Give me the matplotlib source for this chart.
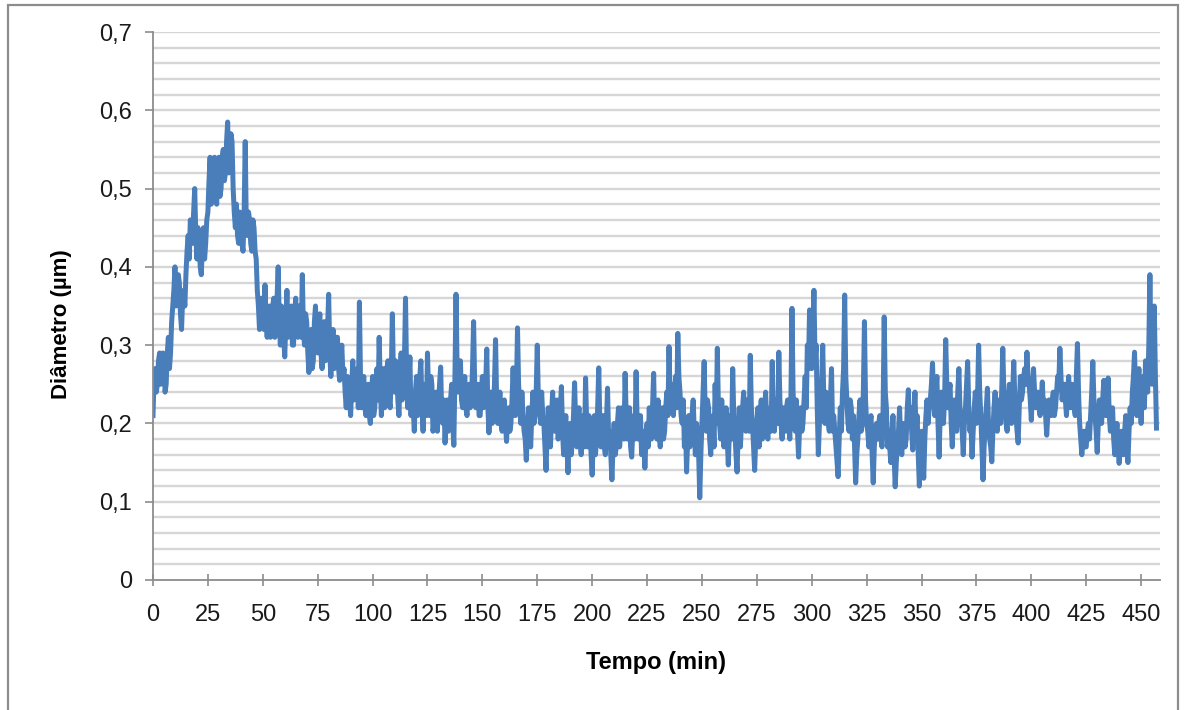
import numpy as np
import matplotlib.pyplot as plt
from matplotlib.patches import Rectangle

diametro = [
    0.21, 0.27, 0.25, 0.29, 0.26, 0.28, 0.25, 0.31, 0.29, 0.35,
    0.40, 0.36, 0.38, 0.32, 0.37, 0.39, 0.44, 0.46, 0.43, 0.50,
    0.41, 0.44, 0.39, 0.45, 0.43, 0.47, 0.54, 0.49, 0.54, 0.48,
    0.54, 0.50, 0.55, 0.52, 0.585, 0.53, 0.56, 0.47, 0.48, 0.43,
    0.46, 0.42, 0.56, 0.44, 0.46, 0.42, 0.45, 0.41, 0.35, 0.33,
    0.34, 0.377, 0.31, 0.35, 0.32, 0.36, 0.33, 0.40, 0.30, 0.34,
    0.285, 0.37, 0.32, 0.35, 0.30, 0.36, 0.31, 0.34, 0.39, 0.30,
    0.33, 0.265, 0.32, 0.28, 0.35, 0.29, 0.34, 0.27, 0.33, 0.29,
    0.365, 0.26, 0.32, 0.28, 0.31, 0.255, 0.30, 0.27, 0.22, 0.25,
    0.21, 0.28, 0.24, 0.27, 0.355, 0.22, 0.26, 0.21, 0.25, 0.20,
    0.26, 0.22, 0.27, 0.31, 0.21, 0.27, 0.24, 0.28, 0.22, 0.34,
    0.24, 0.27, 0.21, 0.29, 0.25, 0.36, 0.22, 0.285, 0.24, 0.19,
    0.26, 0.23, 0.28, 0.19, 0.25, 0.29, 0.21, 0.25, 0.20, 0.24,
    0.22, 0.272, 0.20, 0.175, 0.23, 0.20, 0.25, 0.172, 0.365, 0.24,
    0.28, 0.22, 0.26, 0.21, 0.25, 0.23, 0.33, 0.22, 0.25, 0.21,
    0.26, 0.23, 0.295, 0.188, 0.24, 0.22, 0.307, 0.20, 0.24, 0.19,
    0.23, 0.177, 0.22, 0.20, 0.271, 0.21, 0.322, 0.22, 0.24, 0.19,
    0.153, 0.22, 0.17, 0.24, 0.21, 0.30, 0.22, 0.24, 0.20, 0.14,
    0.22, 0.17, 0.24, 0.19, 0.23, 0.20, 0.247, 0.16, 0.21, 0.137,
    0.20, 0.18, 0.252, 0.17, 0.22, 0.16, 0.21, 0.258, 0.17, 0.20,
    0.134, 0.21, 0.18, 0.271, 0.17, 0.21, 0.16, 0.245, 0.19, 0.128,
    0.20, 0.17, 0.22, 0.19, 0.21, 0.264, 0.18, 0.22, 0.157, 0.21,
    0.266, 0.18, 0.21, 0.17, 0.143, 0.20, 0.22, 0.18, 0.264, 0.20,
    0.23, 0.17, 0.22, 0.19, 0.24, 0.298, 0.25, 0.21, 0.26, 0.315,
    0.24, 0.20, 0.17, 0.138, 0.21, 0.18, 0.23, 0.16, 0.19, 0.105,
    0.20, 0.279, 0.19, 0.22, 0.16, 0.21, 0.25, 0.296, 0.20, 0.23,
    0.17, 0.22, 0.147, 0.21, 0.27, 0.19, 0.138, 0.22, 0.20, 0.24,
    0.19, 0.22, 0.287, 0.20, 0.14, 0.20, 0.17, 0.23, 0.19, 0.24,
    0.18, 0.22, 0.279, 0.19, 0.23, 0.291, 0.20, 0.22, 0.19, 0.23,
    0.18, 0.347, 0.21, 0.23, 0.157, 0.22, 0.20, 0.26, 0.30, 0.345,
    0.27, 0.37, 0.30, 0.16, 0.22, 0.30, 0.20, 0.23, 0.19, 0.27,
    0.21, 0.17, 0.132, 0.22, 0.24, 0.364, 0.23, 0.19, 0.22, 0.21,
    0.124, 0.18, 0.23, 0.20, 0.33, 0.20, 0.17, 0.21, 0.124, 0.19,
    0.18, 0.21, 0.17, 0.336, 0.22, 0.19, 0.15, 0.21, 0.119, 0.17,
    0.22, 0.16, 0.20, 0.18, 0.243, 0.22, 0.166, 0.24, 0.21, 0.12,
    0.19, 0.13, 0.21, 0.20, 0.23, 0.277, 0.21, 0.26, 0.157, 0.24,
    0.20, 0.307, 0.22, 0.25, 0.17, 0.23, 0.19, 0.27, 0.21, 0.16,
    0.22, 0.279, 0.19, 0.157, 0.22, 0.20, 0.30, 0.21, 0.128, 0.20,
    0.245, 0.18, 0.151, 0.22, 0.21, 0.23, 0.20, 0.296, 0.22, 0.19,
    0.25, 0.20, 0.279, 0.21, 0.175, 0.26, 0.24, 0.27, 0.291, 0.25,
    0.204, 0.27, 0.22, 0.24, 0.21, 0.253, 0.23, 0.185, 0.23, 0.21,
    0.24, 0.22, 0.26, 0.296, 0.23, 0.25, 0.21, 0.26, 0.22, 0.24,
    0.21, 0.302, 0.20, 0.16, 0.19, 0.17, 0.20, 0.21, 0.279, 0.21,
    0.163, 0.23, 0.20, 0.255, 0.21, 0.258, 0.19, 0.22, 0.16, 0.20,
    0.149, 0.19, 0.16, 0.21, 0.15, 0.22, 0.24, 0.291, 0.21, 0.27,
    0.20, 0.26, 0.28, 0.24, 0.39, 0.25, 0.35, 0.194,
]

# leituras nos meios-minutos (0.5, 1.5, 2.5, ...)
diametro_meio = [
    0.26, 0.24, 0.28, 0.25, 0.29, 0.24, 0.29, 0.27, 0.33, 0.37,
    0.35, 0.39, 0.34, 0.36, 0.35, 0.42, 0.41, 0.44, 0.47, 0.44,
    0.45, 0.40, 0.43, 0.41, 0.46, 0.51, 0.48, 0.53, 0.50, 0.53,
    0.49, 0.54, 0.51, 0.56, 0.52, 0.57, 0.50, 0.45, 0.44, 0.47,
    0.43, 0.47, 0.45, 0.47, 0.43, 0.46, 0.42, 0.37, 0.32, 0.36,
    0.32, 0.33, 0.34, 0.31, 0.35, 0.31, 0.36, 0.33, 0.35, 0.31,
    0.33, 0.31, 0.34, 0.30, 0.34, 0.32, 0.35, 0.31, 0.32, 0.34,
    0.29, 0.30, 0.27, 0.33, 0.30, 0.33, 0.29, 0.31, 0.28, 0.32,
    0.29, 0.30, 0.27, 0.31, 0.27, 0.29, 0.26, 0.24, 0.26, 0.23,
    0.25, 0.23, 0.26, 0.22, 0.26, 0.25, 0.22, 0.24, 0.21, 0.24,
    0.21, 0.25, 0.23, 0.25, 0.25, 0.22, 0.27, 0.23, 0.26, 0.26,
    0.28, 0.23, 0.26, 0.23, 0.28, 0.26, 0.25, 0.21, 0.22, 0.24,
    0.21, 0.26, 0.22, 0.24, 0.21, 0.24, 0.26, 0.19, 0.23, 0.19,
    0.25, 0.21, 0.23, 0.21, 0.19, 0.23, 0.20, 0.26, 0.27, 0.26,
    0.23, 0.25, 0.22, 0.24, 0.22, 0.27, 0.25, 0.24, 0.21, 0.24,
    0.22, 0.25, 0.22, 0.22, 0.20, 0.25, 0.23, 0.22, 0.20, 0.22,
    0.20, 0.21, 0.19, 0.23, 0.22, 0.24, 0.25, 0.20, 0.21, 0.18,
    0.19, 0.19, 0.21, 0.20, 0.24, 0.23, 0.20, 0.21, 0.17, 0.19,
    0.18, 0.21, 0.20, 0.22, 0.18, 0.22, 0.19, 0.19, 0.17, 0.18,
    0.16, 0.21, 0.20, 0.20, 0.18, 0.20, 0.17, 0.20, 0.21, 0.16,
    0.18, 0.16, 0.22, 0.20, 0.20, 0.17, 0.20, 0.18, 0.16, 0.17,
    0.16, 0.20, 0.17, 0.22, 0.18, 0.21, 0.20, 0.17, 0.19, 0.18,
    0.20, 0.19, 0.16, 0.19, 0.18, 0.17, 0.19, 0.22, 0.19, 0.18,
    0.19, 0.20, 0.18, 0.22, 0.21, 0.23, 0.22, 0.24, 0.22, 0.26,
    0.21, 0.23, 0.20, 0.18, 0.17, 0.21, 0.19, 0.20, 0.16, 0.16,
    0.24, 0.21, 0.23, 0.18, 0.20, 0.17, 0.20, 0.22, 0.18, 0.20,
    0.20, 0.18, 0.19, 0.18, 0.21, 0.16, 0.19, 0.17, 0.22, 0.20,
    0.23, 0.19, 0.22, 0.17, 0.18, 0.22, 0.21, 0.18, 0.22, 0.20,
    0.21, 0.19, 0.21, 0.22, 0.20, 0.23, 0.18, 0.20, 0.22, 0.20,
    0.23, 0.24, 0.19, 0.19, 0.20, 0.19, 0.23, 0.22, 0.27, 0.29,
    0.31, 0.28, 0.22, 0.20, 0.25, 0.23, 0.24, 0.20, 0.23, 0.19,
    0.19, 0.15, 0.18, 0.19, 0.27, 0.26, 0.20, 0.23, 0.18, 0.17,
    0.16, 0.21, 0.19, 0.24, 0.23, 0.19, 0.20, 0.16, 0.17, 0.20,
    0.20, 0.18, 0.22, 0.24, 0.17, 0.17, 0.19, 0.16, 0.15, 0.19,
    0.18, 0.19, 0.17, 0.22, 0.20, 0.19, 0.21, 0.19, 0.16, 0.16,
    0.16, 0.18, 0.23, 0.22, 0.25, 0.23, 0.24, 0.20, 0.21, 0.22,
    0.23, 0.25, 0.24, 0.20, 0.21, 0.20, 0.24, 0.22, 0.19, 0.20,
    0.25, 0.22, 0.20, 0.19, 0.24, 0.23, 0.24, 0.17, 0.17, 0.22,
    0.20, 0.17, 0.19, 0.24, 0.19, 0.21, 0.24, 0.24, 0.20, 0.23,
    0.22, 0.24, 0.23, 0.19, 0.22, 0.23, 0.26, 0.25, 0.26, 0.23,
    0.24, 0.24, 0.23, 0.22, 0.23, 0.22, 0.21, 0.21, 0.22, 0.23,
    0.21, 0.24, 0.25, 0.26, 0.24, 0.23, 0.24, 0.23, 0.25, 0.22,
    0.26, 0.24, 0.18, 0.18, 0.17, 0.19, 0.18, 0.24, 0.23, 0.19,
    0.20, 0.21, 0.23, 0.22, 0.23, 0.21, 0.21, 0.18, 0.18, 0.17,
    0.17, 0.17, 0.19, 0.17, 0.19, 0.20, 0.26, 0.24, 0.25, 0.23,
    0.24, 0.22, 0.25, 0.30, 0.29, 0.32, 0.26,
]

x_ticks = list(range(0, 451, 25))
y_ticks = [0, 0.1, 0.2, 0.3, 0.4, 0.5, 0.6, 0.7]
y_labels = ["0", "0,1", "0,2", "0,3", "0,4", "0,5", "0,6", "0,7"]

# junta as duas séries em ordem de tempo
t_int = np.arange(len(diametro), dtype=float)
t_meio = np.arange(len(diametro_meio)) + 0.5
tempo = np.concatenate([t_int, t_meio])
valores = np.concatenate([diametro, diametro_meio])
ordem = np.argsort(tempo, kind="stable")
tempo = tempo[ordem]
valores = valores[ordem]

plt.rcParams['font.family'] = ['Liberation Sans', 'DejaVu Sans']

fig = plt.figure(figsize=(11.87, 7.10), dpi=100)
ax = fig.add_axes([153 / 1187, 130 / 710, 1007 / 1187, 548 / 710])

# linhas de grade horizontais a cada 0,02
for g in np.arange(0.02, 0.701, 0.02):
    ax.axhline(g, color="#d6d6d6", lw=1.7, zorder=0)

ax.plot(tempo, valores, color="#4a7ebb", lw=3.6, zorder=2)

ax.set_xlim(0, 458.6)
ax.set_ylim(0, 0.7)
ax.set_xticks(x_ticks)
ax.set_yticks(y_ticks)
ax.set_yticklabels(y_labels)

for s in ["top", "right"]:
    ax.spines[s].set_visible(False)
for s in ["left", "bottom"]:
    ax.spines[s].set_color("#8c8c8c")
    ax.spines[s].set_linewidth(1.3)

ax.tick_params(axis="x", direction="inout", length=9, width=1.2, color="#8c8c8c",
               labelsize=17, pad=13, labelcolor="#1a1a1a")
ax.tick_params(axis="y", direction="out", length=6, width=1.2, color="#8c8c8c",
               labelsize=17, pad=9, labelcolor="#1a1a1a")

ax.set_xlabel("Tempo (min)", fontsize=17, fontweight="bold", labelpad=18)
ax.set_ylabel("Diâmetro (µm)", fontsize=16, fontweight="bold")
ax.yaxis.set_label_coords(-0.080, 0.467)

# moldura externa
fig.patches.append(Rectangle((8 / 1187, -0.02), 1170 / 1187, 1.02 - 5 / 710,
                             transform=fig.transFigure, fill=False,
                             edgecolor="#8c8c8c", lw=1.6))

plt.savefig("out.png", dpi=100)
